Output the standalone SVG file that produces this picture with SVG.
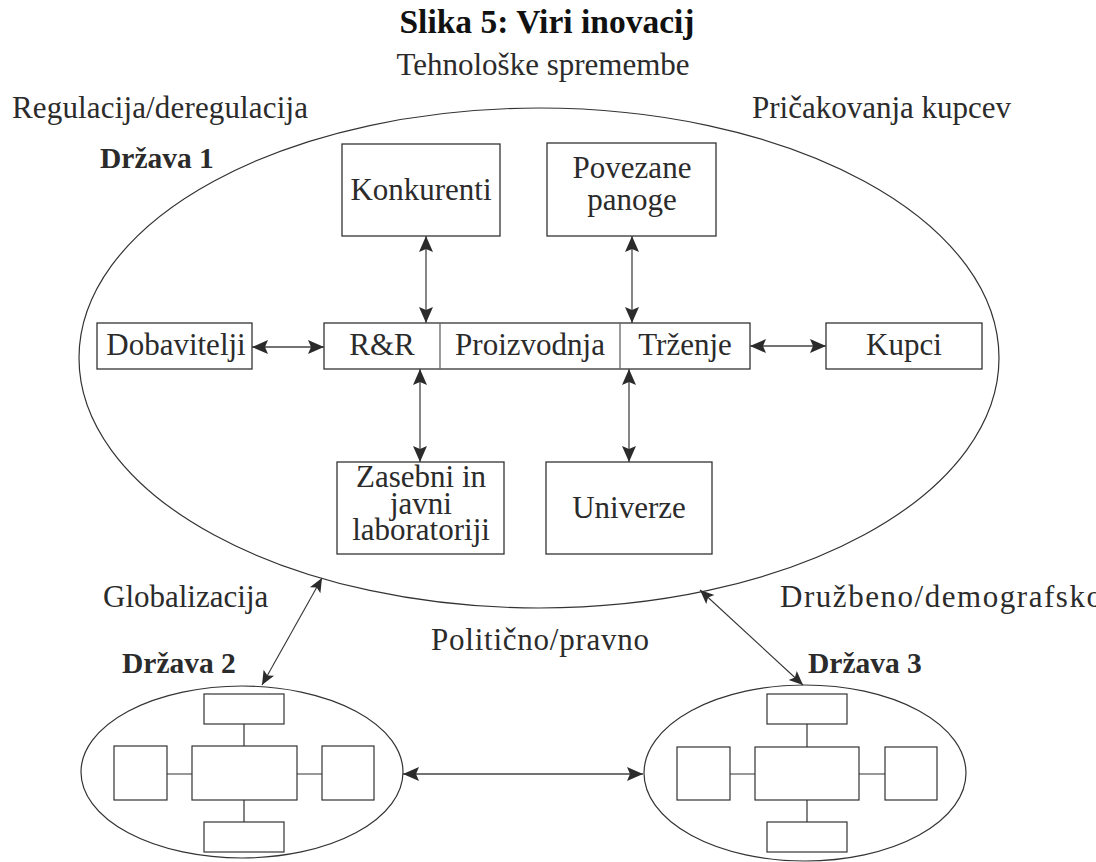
<svg xmlns="http://www.w3.org/2000/svg" width="1096" height="862" viewBox="0 0 1096 862">
  <style>
    .bg { fill: #ffffff; }
    .box { fill: #ffffff; stroke: #333333; stroke-width: 1.3; }
    .sbox { fill: #ffffff; stroke: #333333; stroke-width: 1.2; }
    .ell { fill: none; stroke: #333333; stroke-width: 1.2; }
    .div { stroke: #666666; stroke-width: 1.3; }
    .link { stroke: #333333; stroke-width: 1.2; fill: none; }
    .arrow { stroke: #444444; stroke-width: 1.3; fill: none; marker-start: url(#head); marker-end: url(#head); }
    .thin { stroke: #333333; stroke-width: 1.1; fill: none; marker-start: url(#headS); marker-end: url(#headS); }
    text { font-family: "Liberation Serif", "Times New Roman", serif; fill: #2b2b2b; }
    .lbl { font-size: 31px; }
    .mid { text-anchor: middle; }
    .bold { font-weight: bold; font-size: 29.5px; }
    .title { font-weight: bold; font-size: 33.5px; fill: #111111; text-anchor: middle; }
  </style>
  <defs>
    <marker id="head" viewBox="-17 -8 18 16" refX="0" refY="0" markerWidth="18" markerHeight="16" markerUnits="userSpaceOnUse" orient="auto-start-reverse">
      <path d="M0,0 L-16,-7 L-13,0 L-16,7 Z" fill="#2b2b2b"/>
    </marker>
    <marker id="headS" viewBox="-15 -7 16 14" refX="0" refY="0" markerWidth="16" markerHeight="14" markerUnits="userSpaceOnUse" orient="auto-start-reverse">
      <path d="M0,0 L-14,-6 L-11,0 L-14,6 Z" fill="#2b2b2b"/>
    </marker>
  </defs>

  <rect class="bg" x="0" y="0" width="1096" height="862"/>

  <!-- headings and surrounding forces -->
  <text class="title" x="547" y="33">Slika 5: Viri inovacij</text>
  <text class="lbl mid" x="543" y="75">Tehnološke spremembe</text>
  <text class="lbl" x="12" y="118" textLength="296" lengthAdjust="spacing">Regulacija/deregulacija</text>
  <text class="lbl" x="752" y="118">Pričakovanja kupcev</text>
  <text class="lbl" x="103" y="607">Globalizacija</text>
  <text class="lbl" x="780" y="607" textLength="322" lengthAdjust="spacing">Družbeno/demografsko</text>
  <text class="lbl" x="431" y="650" textLength="218" lengthAdjust="spacing">Politično/pravno</text>

  <!-- country 1 -->
  <g id="drzava1">
    <ellipse class="ell" cx="539" cy="358" rx="460" ry="250"/>
    <text class="bold" x="100" y="168">Država 1</text>
  </g>

  <g id="konkurenti">
    <rect class="box" x="342" y="144" width="158" height="92"/>
    <text class="lbl mid" x="421" y="200">Konkurenti</text>
  </g>

  <g id="povezane-panoge">
    <rect class="box" x="547" y="143" width="169" height="93"/>
    <text class="lbl mid" x="632" y="178">Povezane</text>
    <text class="lbl mid" x="632" y="210">panoge</text>
  </g>

  <g id="dobavitelji">
    <rect class="box" x="97" y="323" width="155" height="46"/>
    <text class="lbl mid" x="176" y="355">Dobavitelji</text>
  </g>

  <g id="podjetje">
    <rect class="box" x="324" y="323" width="426" height="46"/>
    <line class="div" x1="440" y1="323" x2="440" y2="369"/>
    <line class="div" x1="620" y1="323" x2="620" y2="369"/>
    <text class="lbl mid" x="382" y="355">R&amp;R</text>
    <text class="lbl mid" x="530" y="355">Proizvodnja</text>
    <text class="lbl mid" x="685" y="355">Trženje</text>
  </g>

  <g id="kupci">
    <rect class="box" x="826" y="323" width="156" height="46"/>
    <text class="lbl mid" x="904" y="355">Kupci</text>
  </g>

  <g id="laboratoriji">
    <rect class="box" x="337" y="462" width="167" height="92"/>
    <text class="lbl mid" x="421" y="487">Zasebni in</text>
    <text class="lbl mid" x="421" y="514">javni</text>
    <text class="lbl mid" x="421" y="540">laboratoriji</text>
  </g>

  <g id="univerze">
    <rect class="box" x="546" y="462" width="166" height="92"/>
    <text class="lbl mid" x="629" y="518">Univerze</text>
  </g>

  <!-- country 2 -->
  <g id="drzava2">
    <ellipse class="ell" cx="242" cy="772" rx="161" ry="86"/>
    <text class="bold" x="122" y="673">Država 2</text>
    <rect class="sbox" x="204" y="694" width="80" height="30"/>
    <rect class="sbox" x="114" y="746" width="53" height="54"/>
    <rect class="sbox" x="192" y="746" width="105" height="54"/>
    <rect class="sbox" x="322" y="746" width="52" height="54"/>
    <rect class="sbox" x="204" y="822" width="80" height="30"/>
    <path class="link" d="M244,724 V746 M244,800 V822 M167,774 H192 M297,774 H322"/>
  </g>

  <!-- country 3 -->
  <g id="drzava3">
    <ellipse class="ell" cx="805" cy="773" rx="161" ry="88"/>
    <text class="bold" x="808" y="673">Država 3</text>
    <rect class="sbox" x="767" y="694" width="80" height="30"/>
    <rect class="sbox" x="677" y="747" width="53" height="53"/>
    <rect class="sbox" x="755" y="747" width="104" height="53"/>
    <rect class="sbox" x="885" y="747" width="52" height="53"/>
    <rect class="sbox" x="767" y="822" width="80" height="30"/>
    <path class="link" d="M807,724 V747 M807,800 V822 M730,774 H755 M859,774 H885"/>
  </g>

  <!-- connectors -->
  <g id="connectors">
    <line class="arrow" x1="426" y1="236" x2="426" y2="323"/>
    <line class="arrow" x1="632" y1="236" x2="632" y2="323"/>
    <line class="arrow" x1="420" y1="369" x2="420" y2="462"/>
    <line class="arrow" x1="629" y1="369" x2="629" y2="462"/>
    <line class="arrow" x1="252" y1="347" x2="324" y2="347"/>
    <line class="arrow" x1="750" y1="346" x2="826" y2="346"/>
    <line class="thin" x1="322" y1="578" x2="262" y2="685"/>
    <line class="thin" x1="700" y1="590" x2="803" y2="685"/>
    <line class="arrow" x1="403" y1="774" x2="643" y2="774"/>
  </g>
</svg>
